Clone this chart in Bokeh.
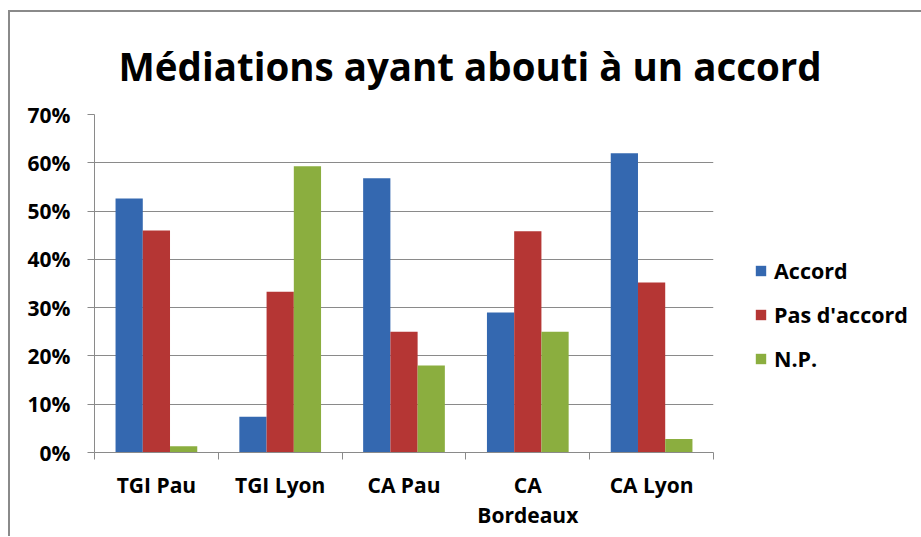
import numpy as np
from bokeh.plotting import figure
from bokeh.models import (Range1d, FixedTicker, NumeralTickFormatter, Legend, LegendItem,
                          ColumnDataSource)
from bokeh.embed import file_html
from bokeh.resources import INLINE

categories = ["TGI Pau", "TGI Lyon", "CA Pau", "CA\nBordeaux", "CA Lyon"]
series_names = ["Accord", "Pas d'accord", "N.P."]
accord = [0.526, 0.074, 0.568, 0.290, 0.620]
pas_accord = [0.460, 0.333, 0.250, 0.458, 0.352]
np_vals = [0.013, 0.593, 0.180, 0.250, 0.028]
y_ticks = [0.0, 0.1, 0.2, 0.3, 0.4, 0.5, 0.6, 0.7]

colors = ["#3468b0", "#b53634", "#8bae3f"]
FONT = "Open Sans"

centers = np.arange(len(categories)) + 0.5
bar_w = 0.22
offsets = [-bar_w, 0.0, bar_w]

p = figure(frame_width=619, frame_height=338, output_backend="svg", toolbar_location=None,
           x_range=Range1d(0, len(categories)), y_range=Range1d(0, 0.7),
           min_border_left=84, min_border_right=207, min_border_top=102, min_border_bottom=84)
p.styles = {"border-left": "2px solid #8a8a8a", "border-top": "2px solid #8a8a8a",
            "margin-left": "8px", "margin-top": "10px"}
p.outline_line_color = None
p.background_fill_color = "white"
p.border_fill_color = "white"

# title
p.title.text = "Médiations ayant abouti à un accord"
p.title.text_font = FONT
p.title.text_font_size = "38.5px"
p.title.text_font_style = "bold"
p.title.text_color = "black"
p.title.align = "left"
p.title.offset = 24
p.title.vertical_align = "middle"
p.title.standoff = 43

renderers = []
for vals, off, col in zip([accord, pas_accord, np_vals], offsets, colors):
    src = ColumnDataSource(dict(x=centers + off, top=vals))
    r = p.vbar(x="x", top="top", bottom=0, width=bar_w, source=src,
               fill_color=col, line_color=None)
    renderers.append(r)

# y axis
p.yaxis.ticker = FixedTicker(ticks=y_ticks)
p.yaxis.formatter = NumeralTickFormatter(format="0%")
p.yaxis.major_label_text_font = FONT
p.yaxis.major_label_text_font_size = "21px"
p.yaxis.major_label_text_font_style = "bold"
p.yaxis.major_label_text_color = "black"
p.yaxis.axis_line_color = "#8a8a8a"
p.yaxis.major_tick_line_color = "#8a8a8a"
p.yaxis.major_tick_out = 7
p.yaxis.major_tick_in = 0
p.yaxis.minor_tick_line_color = None
p.yaxis.major_label_standoff = 17

# x axis
p.xaxis.ticker = FixedTicker(ticks=list(centers), minor_ticks=list(np.arange(len(categories) + 1)))
p.xaxis.major_label_overrides = {float(c): lab for c, lab in zip(centers, categories)}
p.xaxis.major_label_text_font = FONT
p.xaxis.major_label_text_font_size = "21px"
p.xaxis.major_label_text_font_style = "bold"
p.xaxis.major_label_text_color = "black"
p.xaxis.major_label_text_line_height = 1.08
p.xaxis.axis_line_color = "#8a8a8a"
p.xaxis.major_tick_line_color = None
p.xaxis.major_tick_out = 0
p.xaxis.minor_tick_line_color = "#8a8a8a"
p.xaxis.minor_tick_out = 7
p.xaxis.minor_tick_in = 0
p.xaxis.major_label_standoff = 11

p.xgrid.grid_line_color = None
p.ygrid.grid_line_color = "#8a8a8a"
p.ygrid.ticker = FixedTicker(ticks=y_ticks)

legend = Legend(items=[LegendItem(label=n, renderers=[r]) for n, r in zip(series_names, renderers)],
                location=(41, 79), border_line_color=None, background_fill_alpha=0,
                padding=0, margin=0, spacing=15, glyph_width=13, glyph_height=13,
                label_height=26, label_standoff=7,
                label_text_font=FONT, label_text_font_size="21.5px", label_text_font_style="bold",
                label_text_color="black")
p.add_layout(legend, "right")

open("out.html", "w").write(file_html(p, INLINE))
